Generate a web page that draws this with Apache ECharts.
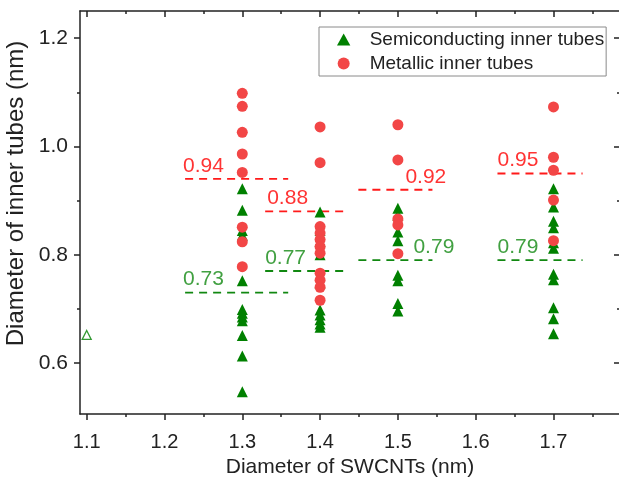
<!DOCTYPE html>
<html>
<head>
<meta charset="utf-8">
<script src="https://cdn.jsdelivr.net/npm/echarts@6/dist/echarts.min.js"></script>
<style>
  html, body { margin: 0; padding: 0; background: #fff; }
  #chart { width: 619px; height: 484px; }
</style>
</head>
<body>
<div id="chart"></div>
<script>
// tick labels
const xTicks = [1.1, 1.2, 1.3, 1.4, 1.5, 1.6, 1.7];
const xMinor = [1.15, 1.25, 1.35, 1.45, 1.55, 1.65, 1.75];
const yTicks = [0.6, 0.8, 1.0, 1.2];
const yMinor = [0.7, 0.9, 1.1];

// SWCNT diameters of the columns
const columns = [1.3, 1.4, 1.5, 1.7];

// semiconducting inner tubes, one list per column
const semi13 = [0.922, 0.882, 0.845, 0.836, 0.752, 0.699, 0.692, 0.685, 0.678, 0.651, 0.613, 0.547];
const semi14 = [0.879, 0.845, 0.825, 0.800, 0.748, 0.698, 0.689, 0.680, 0.672, 0.666];
const semi15 = [0.886, 0.873, 0.842, 0.826, 0.762, 0.752, 0.710, 0.696];
const semi17 = [0.922, 0.888, 0.862, 0.850, 0.822, 0.812, 0.764, 0.754, 0.702, 0.682, 0.654];
// open triangle at 1.1 nm
const semiOpen = [[1.1, 0.652]];

// metallic inner tubes
const metal13 = [1.098, 1.074, 1.026, 0.986, 0.952, 0.851, 0.824, 0.778];
const metal14 = [1.036, 0.970, 0.852, 0.840, 0.828, 0.815, 0.803, 0.766, 0.753, 0.740, 0.716];
const metal15 = [1.040, 0.975, 0.866, 0.855, 0.802];
const metal17 = [1.073, 0.980, 0.956, 0.901, 0.826];

// mean values and the x span of their dashed lines
const metalMean = [0.94, 0.88, 0.92, 0.95];
const semiMean = [0.73, 0.77, 0.79, 0.79];
const meanFrom = [1.2265, 1.3294, 1.4492, 1.628];
const meanTo = [1.359, 1.4363, 1.5444, 1.7374];
// where the mean labels start (x)
const metalLabelX = [1.2239, 1.332, 1.5097, 1.628];
const semiLabelX = [1.2239, 1.3294, 1.52, 1.628];

const FONT = 'Liberation Sans, Arial, sans-serif';
const GREEN = '#008000';
const RED = '#f24646';
const X_MIN = 1.0914, X_MAX = 1.7855;
const Y_MIN = 0.506, Y_MAX = 1.25;

const semiCols = [semi13, semi14, semi15, semi17];
const metalCols = [metal13, metal14, metal15, metal17];
function toPoints(cols) {
  const pts = [];
  cols.forEach(function (vals, i) {
    vals.forEach(function (v) { pts.push([columns[i], v]); });
  });
  return pts;
}

const myChart = echarts.init(document.getElementById('chart'));

function meanLines(means, color) {
  return means.map(function (m, i) {
    return {
      type: 'line',
      data: [[meanFrom[i], m], [meanTo[i], m]],
      symbol: 'none',
      silent: true,
      z: 1,
      lineStyle: { color: color, width: 1.8, type: [8, 6] }
    };
  });
}
function meanLabels(means, xs, color) {
  return {
    type: 'scatter',
    symbolSize: 0,
    silent: true,
    data: means.map(function (m, i) { return [xs[i], m]; }),
    label: {
      show: true,
      position: 'right',
      distance: 0,
      offset: [0, -13],
      formatter: function (p) { return p.value[1].toFixed(2); },
      color: color,
      fontSize: 21,
      fontFamily: FONT
    }
  };
}

const axisLine = { show: true, lineStyle: { color: '#222', width: 1.5 } };
const noLine = { show: false };
function xAx(pos, ticks, len, inside, main) {
  return {
    type: 'value', position: pos, min: X_MIN, max: X_MAX,
    axisLine: main ? axisLine : noLine,
    splitLine: { show: false },
    axisTick: { show: true, customValues: ticks, length: len, inside: inside,
                lineStyle: { color: '#222', width: 1.5 } },
    axisLabel: { show: false }
  };
}
function yAx(pos, ticks, len, inside, main) {
  return {
    type: 'value', position: pos, min: Y_MIN, max: Y_MAX,
    axisLine: main ? axisLine : noLine,
    splitLine: { show: false },
    axisTick: { show: true, customValues: ticks, length: len, inside: inside,
                lineStyle: { color: '#222', width: 1.5 } },
    axisLabel: { show: false }
  };
}

const xBottom = xAx('bottom', xTicks, 6, false, true);
xBottom.axisLabel = { show: true, customValues: xTicks, margin: 18, fontSize: 20,
  color: '#222', fontFamily: FONT, formatter: function (v) { return v.toFixed(1); } };
xBottom.name = 'Diameter of SWCNTs (nm)';
xBottom.nameLocation = 'middle';
xBottom.nameGap = 43;
xBottom.nameTextStyle = { fontSize: 21, color: '#222', fontFamily: FONT };

const yLeft = yAx('left', yTicks, 6, false, true);
yLeft.axisLabel = { show: true, customValues: yTicks, margin: 12, fontSize: 21,
  color: '#222', fontFamily: FONT, formatter: function (v) { return v.toFixed(1); } };
yLeft.name = 'Diameter of inner tubes (nm)';
yLeft.nameLocation = 'middle';
yLeft.nameGap = 46;
yLeft.nameTextStyle = { fontSize: 24, color: '#222', fontFamily: FONT, padding: [0, 0, 0, 38] };

const option = {
  animation: false,
  grid: { left: 80, top: 11, right: -1, bottom: 70, outerBoundsMode: 'none', containLabel: false },
  legend: {
    orient: 'vertical', left: 319, top: 27,
    data: [
      { name: 'Semiconducting inner tubes', icon: 'path://M5,0 L10,9 L0,9 Z' },
      { name: 'Metallic inner tubes', icon: 'circle' }
    ],
    itemWidth: 42, itemHeight: 12, itemGap: 5,
    symbolKeepAspect: true,
    padding: [3, 2, 3, 18],
    borderColor: '#8a8a8a', borderWidth: 1,
    selectedMode: false,
    textStyle: { fontSize: 19, color: '#222', fontFamily: FONT, lineHeight: 19 }
  },
  xAxis: [
    xBottom,
    xAx('bottom', xMinor, 3, false, false),
    xAx('top', xTicks, 6, true, true),
    xAx('top', xMinor, 3, true, false)
  ],
  yAxis: [
    yLeft,
    yAx('left', yMinor, 3, false, false),
    yAx('right', yTicks, 6, true, true),
    yAx('right', yMinor, 3, true, false)
  ],
  series: [].concat(
    meanLines(metalMean, '#ff1a1a'),
    meanLines(semiMean, '#118811'),
    [
      meanLabels(metalMean, metalLabelX, '#ff0000'),
      meanLabels(semiMean, semiLabelX, '#118811'),
      {
        name: 'Semiconducting inner tubes',
        type: 'scatter',
        symbol: 'triangle',
        symbolSize: 11,
        z: 3,
        itemStyle: { color: GREEN, opacity: 1 },
        data: toPoints(semiCols)
      },
      {
        name: 'Metallic inner tubes',
        type: 'scatter',
        symbol: 'circle',
        symbolSize: 11,
        z: 4,
        itemStyle: { color: RED, opacity: 1 },
        data: toPoints(metalCols)
      },
      {
        type: 'scatter',
        symbol: 'triangle',
        symbolSize: 9,
        itemStyle: { color: '#fff', borderColor: GREEN, borderWidth: 1.3 },
        data: semiOpen
      }
    ]
  )
};
myChart.setOption(option);
</script>
</body>
</html>
